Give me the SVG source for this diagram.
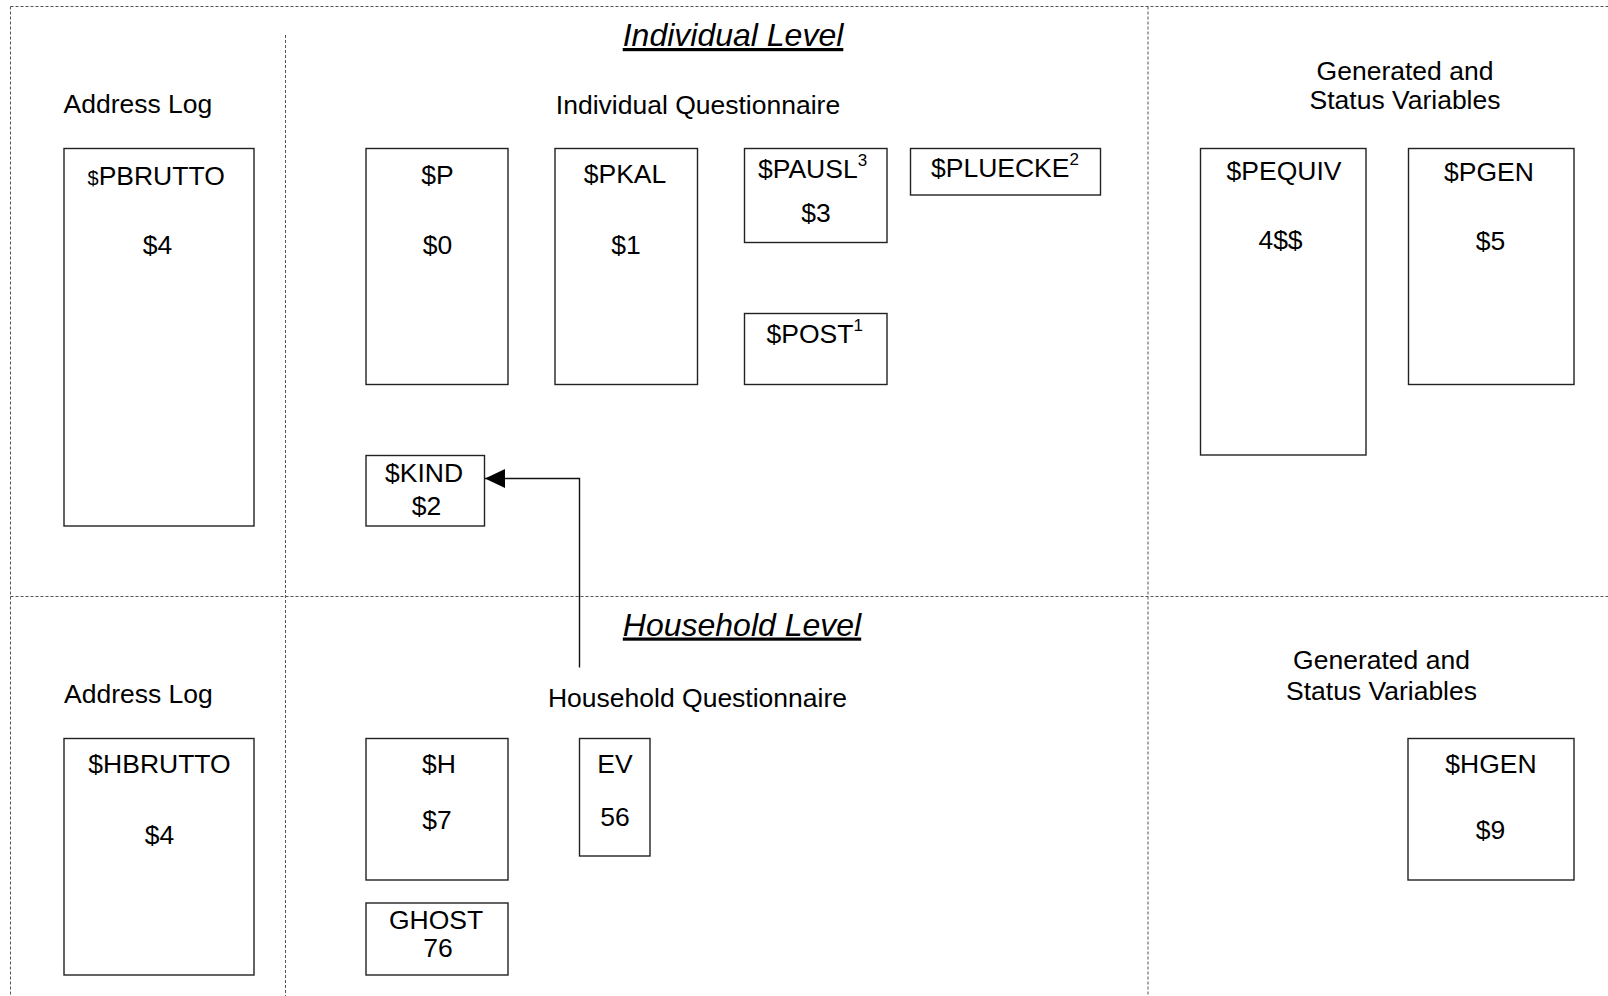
<svg xmlns="http://www.w3.org/2000/svg" width="1608" height="996" viewBox="0 0 1608 996">
  <style>
    text { font-family: "Liberation Sans", Arial, sans-serif; font-size: 26.5px; fill: #000; }
    .mid { text-anchor: middle; }
    .title { font-size: 32px; font-style: italic; text-decoration: underline; text-anchor: middle; }
    .sup { font-size: 17px; }
    .box { fill: #fff; stroke: #222; stroke-width: 1.4; }
    .grid { fill: none; stroke: #555; stroke-width: 1; stroke-dasharray: 3 2; }
    .link { fill: none; stroke: #111; stroke-width: 1.4; }
  </style>
  <defs>
    <marker id="arrowhead" markerUnits="userSpaceOnUse" markerWidth="21" markerHeight="20" refX="20" refY="9.5" orient="auto">
      <path d="M0,0 L20,9.5 L0,19 z" fill="#000"/>
    </marker>
  </defs>
  <rect width="1608" height="996" fill="#fff"/>

  <!-- section frame -->
  <g id="frame">
    <line class="grid" x1="10.5" y1="6.5" x2="1608" y2="6.5"/>
    <line class="grid" x1="10.5" y1="6.5" x2="10.5" y2="996"/>
    <line class="grid" x1="285.5" y1="35" x2="285.5" y2="996"/>
    <line class="grid" x1="1148" y1="6.5" x2="1148" y2="996"/>
    <line class="grid" x1="10.5" y1="596.5" x2="1608" y2="596.5"/>
  </g>

  <!-- headings -->
  <g id="headings">
    <text class="title" x="733" y="46">Individual Level</text>
    <text class="title" x="742" y="635.5">Household Level</text>
    <text x="63.5" y="112.5">Address Log</text>
    <text x="64" y="702.5">Address Log</text>
    <text class="mid" x="698" y="114">Individual Questionnaire</text>
    <text class="mid" x="697.5" y="706.5" font-size="25.6">Household Questionnaire</text>
    <text class="mid" x="1405" y="80">Generated and</text>
    <text class="mid" x="1405" y="108.5">Status Variables</text>
    <text class="mid" x="1381.5" y="668.5">Generated and</text>
    <text class="mid" x="1381.5" y="699.5">Status Variables</text>
  </g>

  <!-- individual level -->
  <g id="pbrutto">
    <rect class="box" x="64" y="148.5" width="190" height="377.5"/>
    <text x="87.5" y="185"><tspan font-size="20">$</tspan>PBRUTTO</text>
    <text class="mid" x="157.5" y="253.5">$4</text>
  </g>
  <g id="p">
    <rect class="box" x="366" y="148.5" width="142" height="236"/>
    <text class="mid" x="437.5" y="183.5">$P</text>
    <text class="mid" x="437.5" y="253.5">$0</text>
  </g>
  <g id="pkal">
    <rect class="box" x="555" y="148.5" width="142.5" height="236"/>
    <text class="mid" x="625" y="183">$PKAL</text>
    <text class="mid" x="626" y="253.5">$1</text>
  </g>
  <g id="pausl">
    <rect class="box" x="744.5" y="148.5" width="142.5" height="94"/>
    <text x="758" y="177.5">$PAUSL<tspan class="sup" dy="-11.5">3</tspan></text>
    <text class="mid" x="816" y="221.5">$3</text>
  </g>
  <g id="pluecke">
    <rect class="box" x="910.5" y="148.5" width="190" height="46.5"/>
    <text x="931" y="176.5" font-size="27.3">$PLUECKE<tspan class="sup" dy="-11.5">2</tspan></text>
  </g>
  <g id="post">
    <rect class="box" x="744.5" y="313.5" width="142.5" height="71"/>
    <text x="766.5" y="342.5">$POST<tspan class="sup" dy="-11.5">1</tspan></text>
  </g>
  <g id="kind">
    <rect class="box" x="366" y="455.5" width="118.5" height="70.5"/>
    <text class="mid" x="424" y="481.5">$KIND</text>
    <text class="mid" x="426.5" y="515">$2</text>
  </g>
  <g id="pequiv">
    <rect class="box" x="1200.5" y="148.5" width="165.5" height="306.5"/>
    <text class="mid" x="1284" y="179.5">$PEQUIV</text>
    <text class="mid" x="1280.5" y="248.5">4$$</text>
  </g>
  <g id="pgen">
    <rect class="box" x="1408.5" y="148.5" width="165.5" height="236"/>
    <text class="mid" x="1489" y="181">$PGEN</text>
    <text class="mid" x="1490.5" y="250">$5</text>
  </g>

  <!-- household level -->
  <g id="hbrutto">
    <rect class="box" x="64" y="738.5" width="190" height="236.5"/>
    <text class="mid" x="159.5" y="772.5">$HBRUTTO</text>
    <text class="mid" x="159.5" y="843.5">$4</text>
  </g>
  <g id="h">
    <rect class="box" x="366" y="738.5" width="142" height="141.5"/>
    <text class="mid" x="439" y="772.5">$H</text>
    <text class="mid" x="437" y="828.5">$7</text>
  </g>
  <g id="ev">
    <rect class="box" x="579.5" y="738.5" width="70.5" height="117.5"/>
    <text class="mid" x="615" y="772.5">EV</text>
    <text class="mid" x="615" y="826">56</text>
  </g>
  <g id="ghost">
    <rect class="box" x="366" y="903" width="142" height="72"/>
    <text class="mid" x="436" y="928.5">GHOST</text>
    <text class="mid" x="438" y="956.5">76</text>
  </g>
  <g id="hgen">
    <rect class="box" x="1408" y="738.5" width="166" height="141.5"/>
    <text class="mid" x="1491" y="772.5">$HGEN</text>
    <text class="mid" x="1490.5" y="838.5">$9</text>
  </g>

  <!-- connectors -->
  <g id="connectors">
    <polyline class="link" points="579.5,667.5 579.5,478.5 485,478.5" marker-end="url(#arrowhead)"/>
  </g>
</svg>
